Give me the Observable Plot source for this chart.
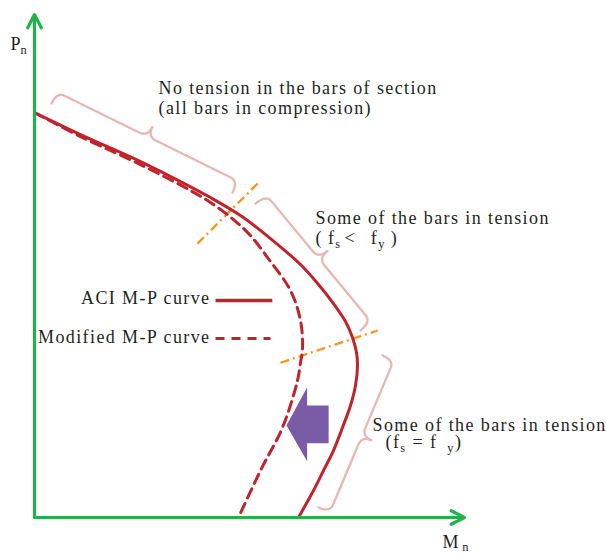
<!DOCTYPE html>
<html><head><meta charset="utf-8">
<script src="https://cdn.jsdelivr.net/npm/d3@7"></script>
<script src="https://cdn.jsdelivr.net/npm/@observablehq/plot@0.6"></script>
<style>
html,body{margin:0;padding:0;background:#fff;}
#chart svg{display:block;}
</style></head><body><div id="chart"></div>
<script>
// Schematic interaction diagram, normalized units (M: 0–100, P: 0–117)
const aciM = [0, 10.7, 24.65, 33.95, 40.93, 47.91, 54.88, 61.86, 66.05, 69.53, 72.33, 73.95, 74.88, 75.12, 74.65, 73.49, 71.63, 69.53, 67.21, 64.88, 61.4];
const aciP = [94.19, 89.07, 82.79, 78.14, 74.42, 70.23, 64.88, 58.84, 54.19, 49.77, 45.58, 41.86, 38.37, 35.35, 30.7, 26.05, 20.93, 15.58, 10.93, 6.28, 0];
const modM = [0, 10.7, 24.65, 36.28, 40.93, 46.28, 50.23, 54.19, 59.53, 61.86, 62.33, 61.86, 61.16, 57.67, 52.56, 47.44];
const modP = [94.19, 88.6, 82.09, 76.05, 73.26, 69.3, 65.58, 60.47, 52.79, 45.81, 39.3, 36.05, 31.86, 20.93, 10.93, 0];

// region boundaries (dash-dot lines)
const boundM1 = [37.9, 57.2];
const boundP1 = [63.7, 36.0];
const boundM2 = [51.9, 79.8];
const boundP2 = [77.7, 43.5];

// braces: start, end, depth
const braceM1 = [3.95, 51.4, 80.93];
const braceP1 = [96.28, 73.02, 37.67];
const braceM2 = [46.05, 75.81, 66.05];
const braceP2 = [75.58, 43.49, 2.33];
const braceDepth = [5.4, 5.8, 5.2];

// shift arrow outline
const shiftM = [58.6, 63.4, 63.4, 68.4, 68.4, 63.4, 63.4, 58.6];
const shiftP = [21.4, 30.3, 26.05, 26.05, 17.28, 17.28, 13.09, 21.4];

// labels (baseline anchors)
const labelText = ["No tension in the bars of section", "(all bars in compression)",
  "Some of the bars in tension", "(\u2009f_s\u200a<\u00a0\u00a0\u200af_y\u2009)",
  "Some of the bars in tension", "(f_s\u00a0=\u00a0f\u2009\u2009_y)"];
const labelM = [28.84, 28.84, 65.35, 65.35, 78.6, 81.63];
const labelP = [98.6, 93.95, 68.37, 63.72, 20.23, 16.05];

const legendText = ["ACI M-P curve", "Modified M-P curve"];
const legendM = [40.93, 40.93];
const legendP = [49.77, 40.7];
const legendLineM1 = [42.1, 42.1];
const legendLineM2 = [55.3, 54.9];
const legendLineP = [50.47, 41.63];

const axisText = ["P_n", "M\u2009_n"];
const axisTextM = [-5.6, 94.9];
const axisTextP = [108.8, -6.98];

const red = "#c1232c", green = "#22b14c", pink = "#e7b6b5", orange = "#f7941d", purple = "#7a5ca6", ink = "#231f20";
const serif = "Liberation Serif, Times New Roman, serif";

const aci = aciM.map((m, i) => ({m, p: aciP[i]}));
const mod = modM.map((m, i) => ({m, p: modP[i]}));
const bounds = boundM1.map((m, i) => ({m1: m, p1: boundP1[i], m2: boundM2[i], p2: boundP2[i]}));
const shift = shiftM.map((m, i) => ({m, p: shiftP[i]}));
const labels = labelText.map((t, i) => ({t, m: labelM[i], p: labelP[i]}));
const legend = legendText.map((t, i) => ({t, m: legendM[i], p: legendP[i], m1: legendLineM1[i], m2: legendLineM2[i], lp: legendLineP[i]}));
const axisLabels = axisText.map((t, i) => ({t, m: axisTextM[i], p: axisTextP[i]}));

// curly brace glyph between two anchor points
function brace(i) {
  const x1 = braceM1[i], y1 = braceP1[i], x2 = braceM2[i], y2 = braceP2[i], w = braceDepth[i];
  const L = Math.hypot(x2 - x1, y2 - y1), ux = (x2 - x1) / L, uy = (y2 - y1) / L, nx = -uy, ny = ux;
  const h = w * 0.55, r = 1.9, r2 = 2.2;
  const local = [];
  const quad = (a, c, b) => { for (let k = 0; k <= 10; k++) { const t = k / 10, u = 1 - t;
    local.push([u*u*a[0] + 2*u*t*c[0] + t*t*b[0], u*u*a[1] + 2*u*t*c[1] + t*t*b[1]]); } };
  quad([0, 0], [0, h], [r, h]);
  quad([L/2 - r2, h], [L/2, h], [L/2, w]);
  const out = [];
  for (const half of [0, 1]) for (const [s, t] of local) {
    const ss = half ? L - s : s;
    out.push({m: x1 + ux*ss + nx*t, p: y1 + uy*ss + ny*t, z: i*2 + half});
  }
  return out;
}
const braces = braceM1.flatMap((_, i) => brace(i));

const chart = Plot.plot({
  width: 606, height: 553,
  marginLeft: 34, marginRight: 142, marginTop: 14, marginBottom: 36,
  x: {domain: [0, 100], axis: null},
  y: {domain: [0, 117], axis: null},
  marks: [
    Plot.line(braces, {x: "m", y: "p", z: "z", stroke: pink, strokeWidth: 2.3, curve: "linear"}),
    Plot.link(bounds, {x1: "m1", y1: "p1", x2: "m2", y2: "p2", stroke: orange, strokeWidth: 2.3, strokeDasharray: "9,4,2,4"}),
    Plot.line(aci, {x: "m", y: "p", stroke: red, strokeWidth: 3, curve: "catmull-rom"}),
    Plot.line(mod, {x: "m", y: "p", stroke: red, strokeWidth: 3, strokeDasharray: "10,6", curve: "catmull-rom"}),
    Plot.line(shift, {x: "m", y: "p", fill: purple, stroke: "none"}),
    Plot.link(legend.slice(0, 1), {x1: "m1", x2: "m2", y1: "lp", y2: "lp", stroke: red, strokeWidth: 3.5}),
    Plot.link(legend.slice(1), {x1: "m1", x2: "m2", y1: "lp", y2: "lp", stroke: red, strokeWidth: 3, strokeDasharray: "9,7"}),
    Plot.arrow([{m1: 0, p1: 0, m2: 100, p2: 0}, {m1: 0, p1: 0, m2: 0, p2: 117}],
      {x1: "m1", y1: "p1", x2: "m2", y2: "p2", stroke: green, strokeWidth: 3.2, headLength: 7, headAngle: 54}),
    Plot.text(labels, {x: "m", y: "p", text: "t", textAnchor: "start", lineAnchor: "bottom", fontSize: 18, fontFamily: serif, fill: ink}),
    Plot.text(legend, {x: "m", y: "p", text: "t", textAnchor: "end", lineAnchor: "bottom", fontSize: 18, fontFamily: serif, fill: ink}),
    Plot.text(axisLabels, {x: "m", y: "p", text: "t", textAnchor: "start", lineAnchor: "bottom", fontSize: 18, fontFamily: serif, fill: ink})
  ]
});

// letter spacing for annotation texts, "_x" into subscripts
const NS = "http://www.w3.org/2000/svg";
chart.querySelectorAll("text").forEach(t => {
  const s = t.textContent;
  if (!axisText.includes(s)) t.style.letterSpacing = "1.4px";
  if (!s.includes("_")) return;
  t.textContent = "";
  let shifted = false;
  const drop = s.startsWith("M") ? 3 : 4;
  for (const part of s.split(/(_.)/)) {
    if (!part) continue;
    const ts = document.createElementNS(NS, "tspan");
    if (part[0] === "_") {
      ts.textContent = part[1]; ts.setAttribute("font-size", "12.5"); ts.setAttribute("dy", String(drop)); shifted = true;
    } else {
      ts.textContent = part; if (shifted) { ts.setAttribute("dy", String(-drop)); shifted = false; }
    }
    t.appendChild(ts);
  }
});
document.getElementById("chart").appendChild(chart);
</script></body></html>
